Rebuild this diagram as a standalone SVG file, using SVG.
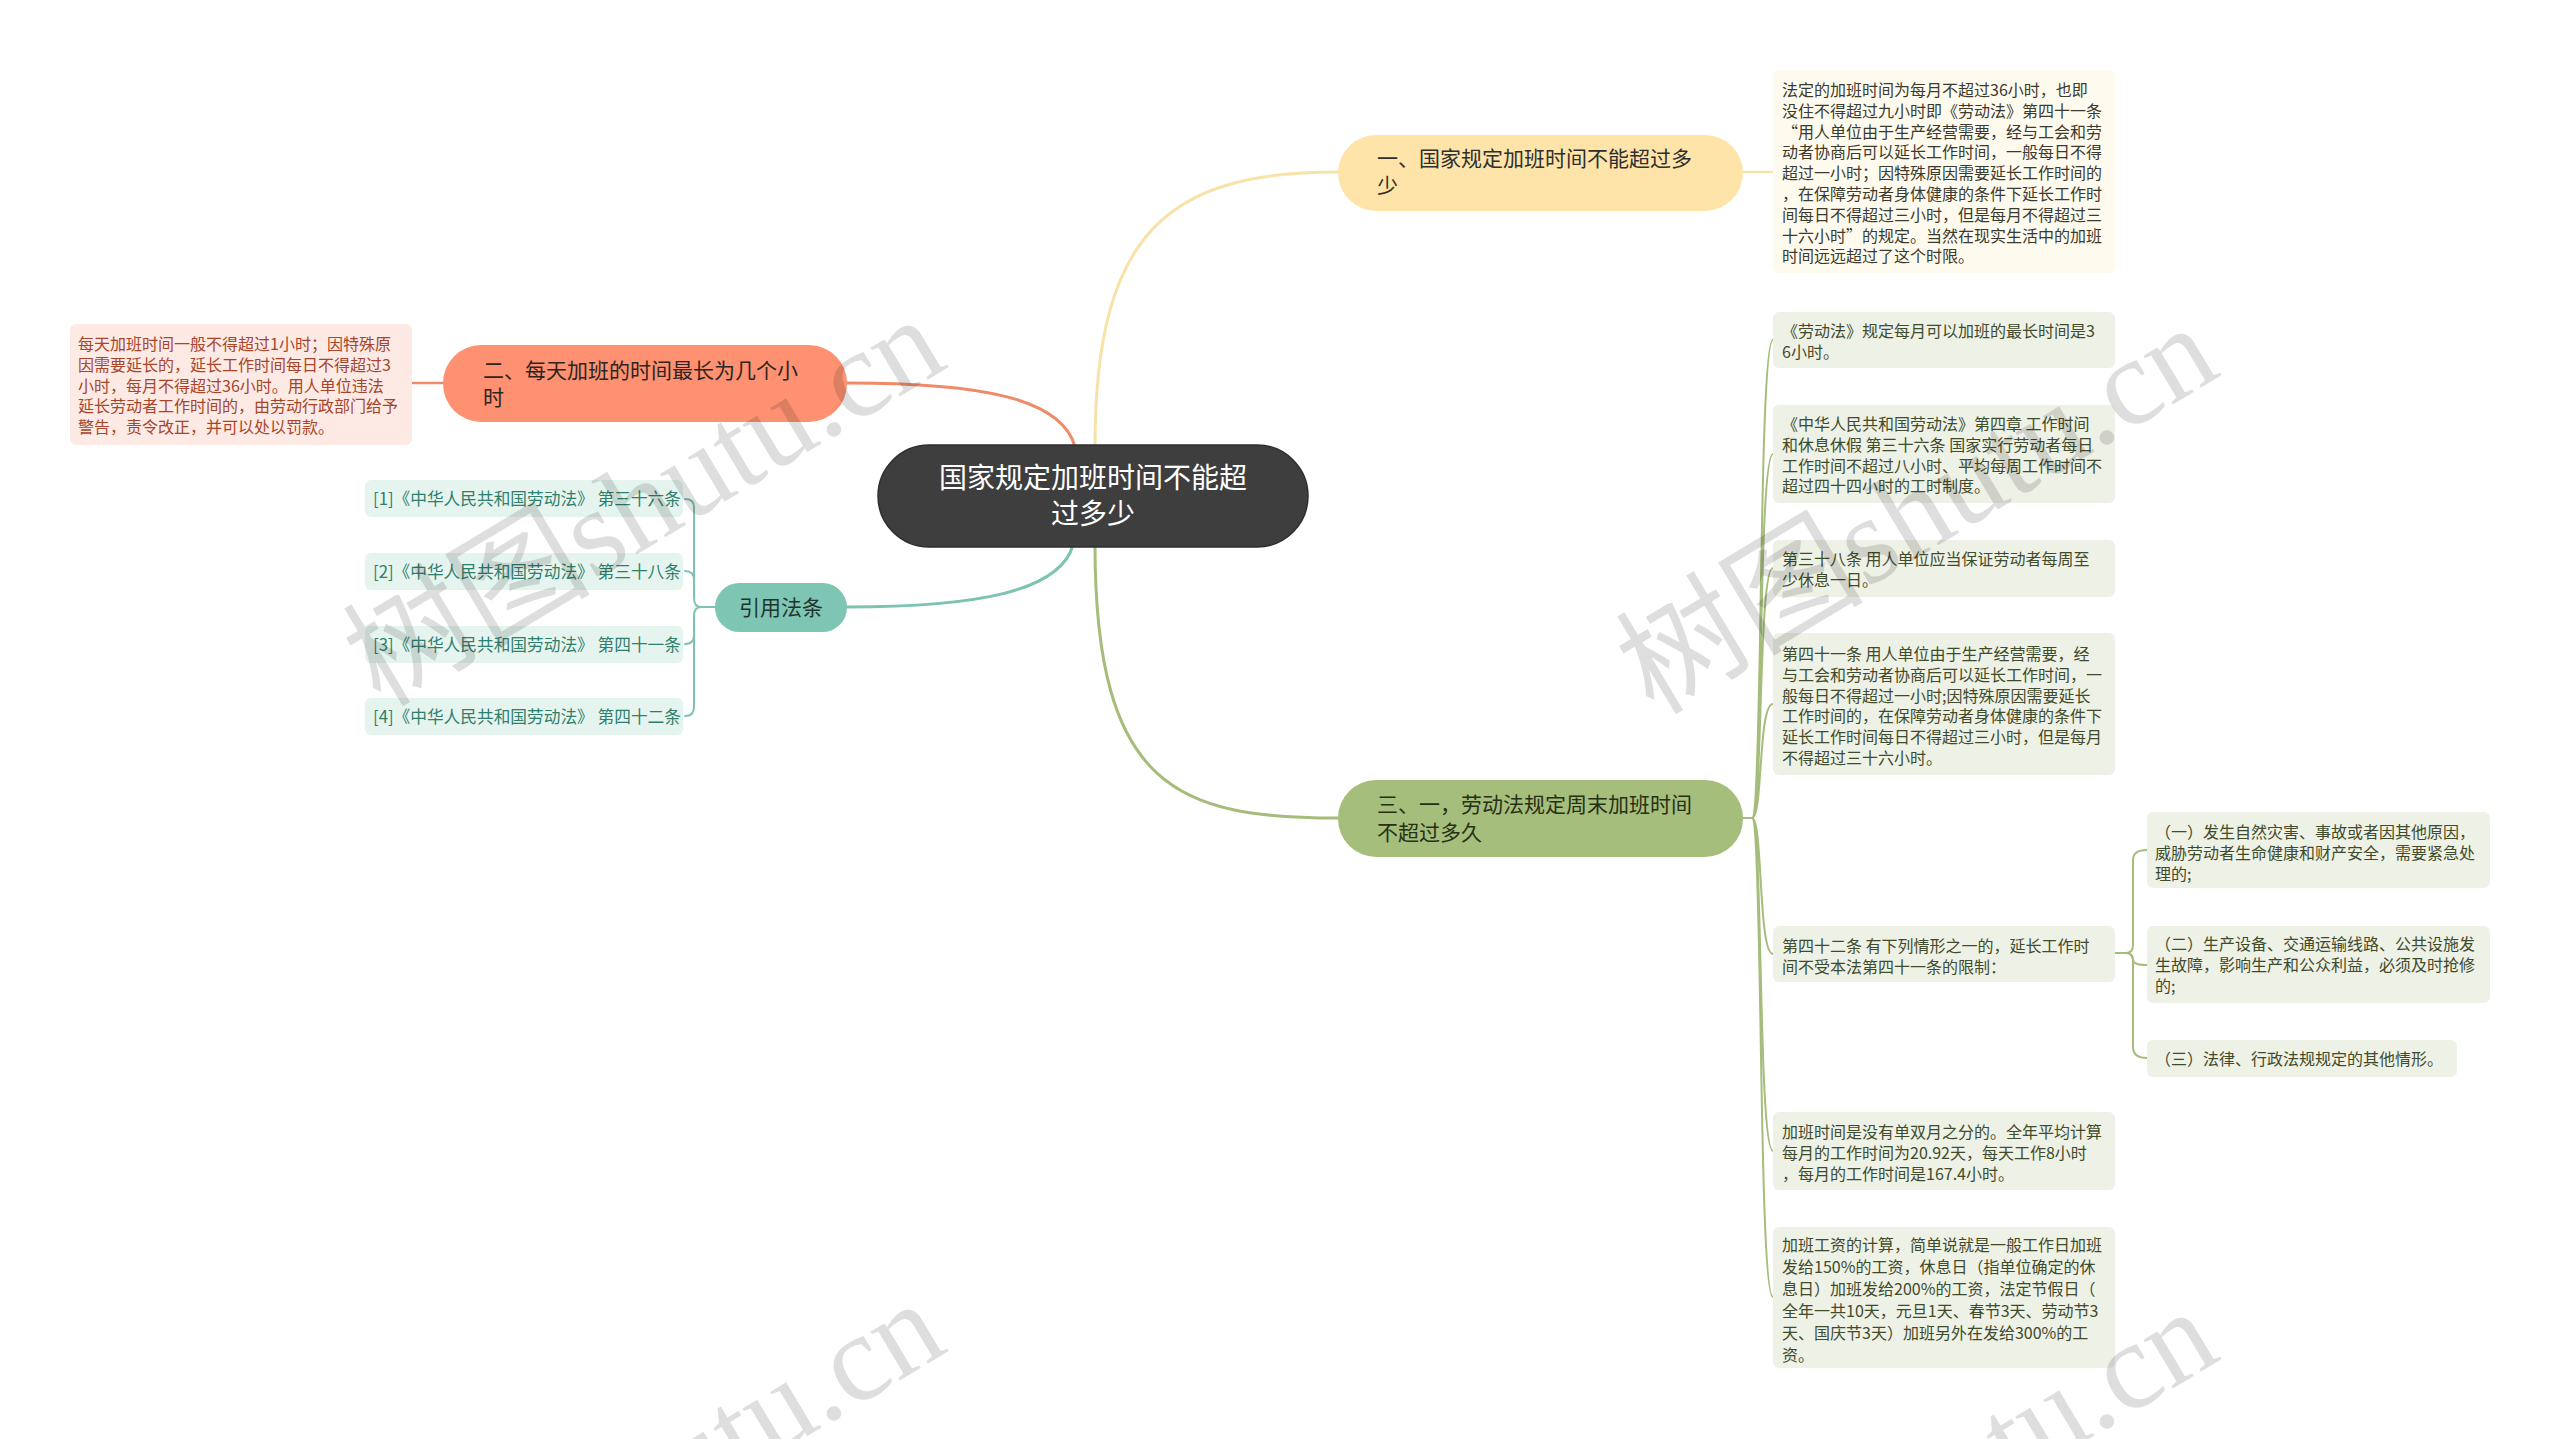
<svg xmlns="http://www.w3.org/2000/svg" width="2560" height="1439" viewBox="0 0 2560 1439">
<style>
text{font-family:"Noto Sans CJK SC","Noto Sans",sans-serif;}
.c{fill:none;stroke-linecap:round;}
.t16{font-size:16px;}
.t21{font-size:21px;}
.cite{font-size:16.7px;fill:#2e7f6c;}
.olive{fill:#eef1e6;}
.ot{fill:#3f4b2a;}
.wm{font-family:"Liberation Serif","Noto Sans CJK SC",serif;font-size:124px;fill:#000;fill-opacity:0.13;}
</style>
<rect width="2560" height="1439" fill="#fff"/>
<g id="connectors">
  <path class="c" stroke="#f7e2a8" stroke-width="3" d="M1095,447 C1095,230 1170,172 1338,172"/>
  <path class="c" stroke="#f7e2a8" stroke-width="2.5" d="M1743,172 H1773"/>
  <path class="c" stroke="#ef8a6a" stroke-width="3" d="M1075,447 C1062,398 980,383 847,383"/>
  <path class="c" stroke="#ef8a6a" stroke-width="2.5" d="M443,383 H412"/>
  <path class="c" stroke="#7cc3b1" stroke-width="3" d="M1073,545 C1060,592 975,607 847,607"/>
  <path class="c" stroke="#7cc3b1" stroke-width="2" d="M715,607 H701 M701,607 Q694,607 694,598 L694,507 Q694,499 685,499 M701,607 Q694,607 694,598 L694,580 Q694,571 685,571 M701,607 Q694,607 694,616 L694,635 Q694,644 685,644 M701,607 Q694,607 694,616 L694,707 Q694,716 685,716"/>
  <path class="c" stroke="#a5bd7a" stroke-width="3" d="M1095,545 C1095,790 1180,818 1338,818"/>
  <path class="c" stroke="#a5bd7a" stroke-width="2" d="M1743,818 H1752 M1752,818 C1763,818 1758,340 1773,340 M1752,818 C1763,818 1758,454 1773,454 M1752,818 C1763,818 1758,568 1773,568 M1752,818 C1763,818 1758,704 1773,704 M1752,818 C1763,818 1758,954 1773,954 M1752,818 C1763,818 1758,1151 1773,1151 M1752,818 C1763,818 1758,1297 1773,1297"/>
  <path class="c" stroke="#a5bd7a" stroke-width="2" d="M2115,953 H2126 M2126,953 Q2133,953 2133,945 L2133,860 Q2133,850 2147,850 M2126,953 Q2133,953 2133,960 Q2133,965 2147,965 M2126,953 Q2133,953 2133,962 L2133,1047 Q2133,1058 2147,1058"/>
</g>
<g id="center">
  <rect x="878" y="445" width="430" height="102" rx="51" fill="#3e3e3e" stroke="#2e2e2e" stroke-width="1.5"/>
  <text x="1093" y="488" font-size="28" fill="#fff" text-anchor="middle">国家规定加班时间不能超</text>
  <text x="1093" y="524" font-size="28" fill="#fff" text-anchor="middle">过多少</text>
</g>
<g id="n1">
  <rect x="1338" y="135" width="405" height="76" rx="38" fill="#fee4a9"/>
  <text class="t21" fill="#2f2f2f"><tspan x="1377" y="166">一、国家规定加班时间不能超过多</tspan><tspan x="1377" y="193">少</tspan></text>
</g>
<g id="n1-text">
  <rect x="1773" y="70" width="342" height="203" rx="6" fill="#fffaee"/>
  <text class="t16" fill="#3a3a2e">
    <tspan x="1782" y="96">法定的加班时间为每月不超过36小时，也即</tspan>
    <tspan x="1782" y="116.8">没住不得超过九小时即《劳动法》第四十一条</tspan>
    <tspan x="1782" y="137.6">“用人单位由于生产经营需要，经与工会和劳</tspan>
    <tspan x="1782" y="158.4">动者协商后可以延长工作时间，一般每日不得</tspan>
    <tspan x="1782" y="179.2">超过一小时；因特殊原因需要延长工作时间的</tspan>
    <tspan x="1782" y="200">，在保障劳动者身体健康的条件下延长工作时</tspan>
    <tspan x="1782" y="220.8">间每日不得超过三小时，但是每月不得超过三</tspan>
    <tspan x="1782" y="241.6">十六小时”的规定。当然在现实生活中的加班</tspan>
    <tspan x="1782" y="262.4">时间远远超过了这个时限。</tspan>
  </text>
</g>
<g id="n2">
  <rect x="443" y="345" width="404" height="77" rx="38" fill="#fd9171"/>
  <text class="t21" fill="#2f2420"><tspan x="483" y="378">二、每天加班的时间最长为几个小</tspan><tspan x="483" y="405">时</tspan></text>
</g>
<g id="n2-text">
  <rect x="70" y="324" width="342" height="121" rx="6" fill="#fdeae4"/>
  <text class="t16" fill="#a6452a">
    <tspan x="78" y="350">每天加班时间一般不得超过1小时；因特殊原</tspan>
    <tspan x="78" y="370.8">因需要延长的，延长工作时间每日不得超过3</tspan>
    <tspan x="78" y="391.6">小时，每月不得超过36小时。用人单位违法</tspan>
    <tspan x="78" y="412.4">延长劳动者工作时间的，由劳动行政部门给予</tspan>
    <tspan x="78" y="433.2">警告，责令改正，并可以处以罚款。</tspan>
  </text>
</g>
<g id="n-cite">
  <rect x="715" y="583" width="132" height="49" rx="24.5" fill="#7fc5b3"/>
  <text x="781" y="615" class="t21" fill="#21332e" text-anchor="middle">引用法条</text>
</g>
<g id="cite1"><rect x="365" y="480" width="318" height="37" rx="6" fill="#e5f4ef"/><text x="373" y="505" class="cite">[1]《中华人民共和国劳动法》 第三十六条</text></g>
<g id="cite2"><rect x="365" y="553" width="318" height="37" rx="6" fill="#e5f4ef"/><text x="373" y="578" class="cite">[2]《中华人民共和国劳动法》 第三十八条</text></g>
<g id="cite3"><rect x="365" y="626" width="318" height="37" rx="6" fill="#e5f4ef"/><text x="373" y="651" class="cite">[3]《中华人民共和国劳动法》 第四十一条</text></g>
<g id="cite4"><rect x="365" y="698" width="318" height="37" rx="6" fill="#e5f4ef"/><text x="373" y="723" class="cite">[4]《中华人民共和国劳动法》 第四十二条</text></g>
<g id="n3">
  <rect x="1338" y="780" width="405" height="77" rx="38" fill="#a6be7b"/>
  <text class="t21" fill="#263015"><tspan x="1377" y="812">三、一，劳动法规定周末加班时间</tspan><tspan x="1377" y="840">不超过多久</tspan></text>
</g>
<g id="n3-1">
  <rect class="olive" x="1773" y="312" width="342" height="56" rx="6"/>
  <text class="t16 ot"><tspan x="1782" y="337">《劳动法》规定每月可以加班的最长时间是3</tspan><tspan x="1782" y="357.8">6小时。</tspan></text>
</g>
<g id="n3-2">
  <rect class="olive" x="1773" y="405" width="342" height="98" rx="6"/>
  <text class="t16 ot"><tspan x="1782" y="430">《中华人民共和国劳动法》第四章 工作时间</tspan><tspan x="1782" y="450.8">和休息休假 第三十六条 国家实行劳动者每日</tspan><tspan x="1782" y="471.6">工作时间不超过八小时、平均每周工作时间不</tspan><tspan x="1782" y="492.4">超过四十四小时的工时制度。</tspan></text>
</g>
<g id="n3-3">
  <rect class="olive" x="1773" y="540" width="342" height="57" rx="6"/>
  <text class="t16 ot"><tspan x="1782" y="565">第三十八条 用人单位应当保证劳动者每周至</tspan><tspan x="1782" y="585.8">少休息一日。</tspan></text>
</g>
<g id="n3-4">
  <rect class="olive" x="1773" y="633" width="342" height="142" rx="6"/>
  <text class="t16 ot"><tspan x="1782" y="660">第四十一条 用人单位由于生产经营需要，经</tspan><tspan x="1782" y="680.8">与工会和劳动者协商后可以延长工作时间，一</tspan><tspan x="1782" y="701.6">般每日不得超过一小时;因特殊原因需要延长</tspan><tspan x="1782" y="722.4">工作时间的，在保障劳动者身体健康的条件下</tspan><tspan x="1782" y="743.2">延长工作时间每日不得超过三小时，但是每月</tspan><tspan x="1782" y="764">不得超过三十六小时。</tspan></text>
</g>
<g id="n3-5">
  <rect class="olive" x="1773" y="926" width="342" height="56" rx="6"/>
  <text class="t16 ot"><tspan x="1782" y="952">第四十二条 有下列情形之一的，延长工作时</tspan><tspan x="1782" y="972.8">间不受本法第四十一条的限制：</tspan></text>
</g>
<g id="n3-5-1">
  <rect class="olive" x="2147" y="812" width="343" height="76" rx="6"/>
  <text class="t16 ot"><tspan x="2155" y="838">（一）发生自然灾害、事故或者因其他原因，</tspan><tspan x="2155" y="858.8">威胁劳动者生命健康和财产安全，需要紧急处</tspan><tspan x="2155" y="879.6">理的;</tspan></text>
</g>
<g id="n3-5-2">
  <rect class="olive" x="2147" y="926" width="343" height="77" rx="6"/>
  <text class="t16 ot"><tspan x="2155" y="950">（二）生产设备、交通运输线路、公共设施发</tspan><tspan x="2155" y="970.8">生故障，影响生产和公众利益，必须及时抢修</tspan><tspan x="2155" y="991.6">的;</tspan></text>
</g>
<g id="n3-5-3">
  <rect class="olive" x="2147" y="1040" width="310" height="37" rx="6"/>
  <text class="t16 ot" x="2155" y="1065">（三）法律、行政法规规定的其他情形。</text>
</g>
<g id="n3-6">
  <rect class="olive" x="1773" y="1112" width="342" height="78" rx="6"/>
  <text class="t16 ot"><tspan x="1782" y="1138">加班时间是没有单双月之分的。全年平均计算</tspan><tspan x="1782" y="1159">每月的工作时间为20.92天，每天工作8小时</tspan><tspan x="1782" y="1180">，每月的工作时间是167.4小时。</tspan></text>
</g>
<g id="n3-7">
  <rect class="olive" x="1773" y="1227" width="342" height="141" rx="6"/>
  <text class="t16 ot"><tspan x="1782" y="1251">加班工资的计算，简单说就是一般工作日加班</tspan><tspan x="1782" y="1273">发给150%的工资，休息日（指单位确定的休</tspan><tspan x="1782" y="1295">息日）加班发给200%的工资，法定节假日（</tspan><tspan x="1782" y="1317">全年一共10天，元旦1天、春节3天、劳动节3</tspan><tspan x="1782" y="1339">天、国庆节3天）加班另外在发给300%的工</tspan><tspan x="1782" y="1361">资。</tspan></text>
</g>
<g id="watermarks">
  <text class="wm" x="648" y="542" text-anchor="middle" transform="rotate(-31 648 508)">树图shutu.cn</text>
  <text class="wm" x="1921" y="550" text-anchor="middle" transform="rotate(-31 1921 516)">树图shutu.cn</text>
  <text class="wm" x="648" y="1526" text-anchor="middle" transform="rotate(-31 648 1492)">树图shutu.cn</text>
  <text class="wm" x="1921" y="1534" text-anchor="middle" transform="rotate(-31 1921 1500)">树图shutu.cn</text>
</g>
</svg>
